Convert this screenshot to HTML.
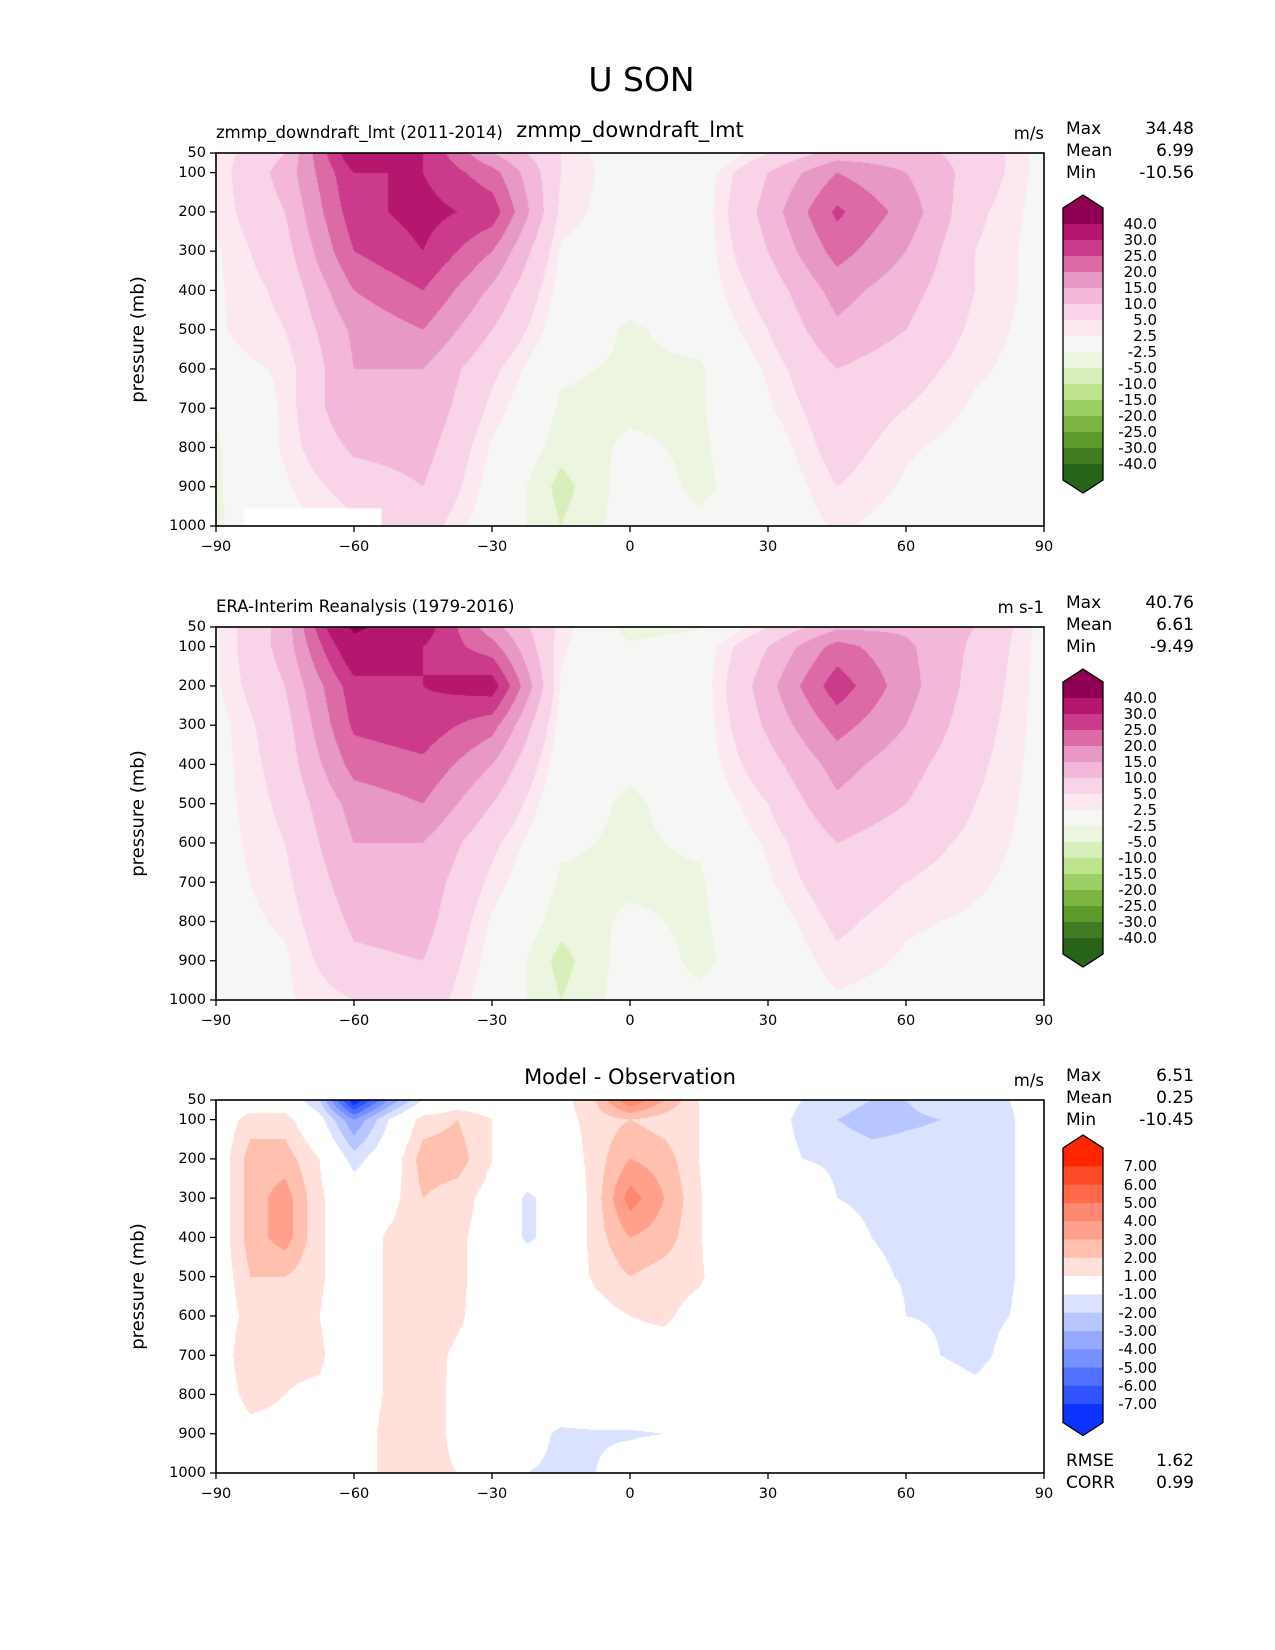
<!DOCTYPE html>
<html><head><meta charset="utf-8">
<style>
body{margin:0;background:#fff;font-family:"Liberation Sans","DejaVu Sans",sans-serif;}
#root{position:relative;width:1275px;height:1650px;overflow:hidden;background:#fff}
.t{position:absolute;white-space:nowrap;color:#000;font-family:"DejaVu Sans","Liberation Sans",sans-serif}
canvas{position:absolute}
svg{position:absolute;left:0;top:0}
</style></head>
<body>
<div id="root">
<div class="t" style="left:0;width:1275px;text-align:center;top:60px;font-size:33px;padding-left:4px">U SON</div>
</div>
<script>
const lats=[-90,-75,-60,-45,-30,-15,0,15,30,45,60,75,90];
const diffLats=[-90,-82.5,-75,-67.5,-60,-52.5,-45,-37.5,-30,-22.5,-15,-7.5,0,7.5,15,22.5,30,37.5,45,52.5,60,67.5,75,82.5,90];
const pressures=[50,100,200,300,400,500,600,700,800,900,1000];
const modelField=[
[3,3,3,2,2,2,1,-2,-3,-3,-3],
[10,12,10,8,6,5,3,3,3,2,1],
[35,30,28,25,20,16,15,15,11,7,4],
[30,30,32,30,25,20,15,14,12,10,7],
[15,22,28,20,14,10,6,4,2,1,0],
[5,5,4,2,1,0,-2,-3,-4,-6,-5],
[-1,0,0,0,-1,-3,-3,-3,-2,-1,-1],
[-3,0,0,0,0,-1,-3,-3,-3,-3,-2],
[5,10,12,10,7,5,3,2,0,-1,-1],
[12,20,26,22,17,14,10,8,7,5,3],
[12,15,18,15,12,10,7,5,3,2,1],
[8,8,6,5,5,4,3,2,1,0,0],
[1,1,1,1,1,1,1,1,1,1,1]];
const obsField=[
[2,2,2,1,1,1,1,1,1,1,1],
[12,12,10,8,7,6,5,4,3,2,2],
[42,36,28,26,22,17,15,13,11,9,5],
[33,30,30,28,24,20,15,13,12,10,8],
[17,22,33,22,15,10,6,4,2,1,0],
[4,3,2,1,0,-1,-2,-3,-4,-6,-5],
[-4,-2,-1,-1,-2,-3,-3,-3,-2,-1,-1],
[-3,0,0,0,0,-1,-2,-3,-3,-3,-2],
[5,10,13,11,8,5,3,2,0,-1,-1],
[14,22,28,22,17,14,10,8,6,4,2],
[14,16,17,15,12,10,7,5,3,2,1],
[10,9,8,7,6,5,4,3,2,1,1],
[1,1,1,1,1,1,1,1,1,1,1]];
const diffField=[
[0,0,0,0,0,0,0,0,0,0,0],
[0,1.5,2.5,2.5,2.5,2,1.5,2,1.5,0.5,0],
[0,1.5,2.5,3.5,3.5,2,1.5,1.2,1,0.5,0],
[-2,-0.5,1,1.2,1.2,1.2,1,1.2,0.8,0.5,0],
[-8,-4,-1.5,0,0,0,0,0,0,0,0],
[-4,-1,0,0.5,1.2,1.2,1.2,1.2,1.2,1.5,1.5],
[-1,1.5,2.5,2,1.5,1.5,1.5,1.5,2,2,1.5],
[0,2,2.5,1.5,1.2,1.2,1.2,0.8,0.5,0.5,1],
[0,1,1,0.5,0.5,0.5,0.3,0.2,0,0,0],
[0,0,0,-1.2,-1.2,0,0,0,0,-0.5,-1],
[0.5,0.5,0,-0.5,-0.5,0,0,0,0,-1.2,-1.2],
[2,1.5,1.5,1.5,1.5,1.2,0.5,0,0,-1.1,-1],
[5,2,3,4.5,3,2,1,0.5,0,-1.1,-0.5],
[3,1.5,2.5,3,2.5,1.5,1.2,0.5,0,-1,0],
[1,1,1,1.2,1.2,1.2,0.5,0,0,0,0],
[0,0,-1,-1,-1,0,0,0,0,0,0],
[0,0,0,0,0,0,0,0,0,0,0],
[-1,-1.5,-1,0,0,0,0,0,0,0,0],
[-1.5,-2,-1.2,-1,-0.5,0,0,0,0,0,0],
[-2,-2.5,-1.5,-1.2,-1,-0.8,0,0,0,0,0],
[-2,-2.2,-1.5,-1.2,-1.2,-1.1,-1,0,0,0,0],
[-1.5,-2,-1.5,-1.2,-1.2,-1.2,-1.2,-1,0,0,0],
[-1.5,-2,-1.5,-1.5,-1.5,-1.5,-1.5,-1.5,-0.5,0,0],
[-1,-1.2,-1.2,-1.2,-1.2,-1.2,-1,-0.5,0,0,0],
[0,0,0,0,0,0,0,0,0,0,0]];
const uLevels=[-40,-30,-25,-20,-15,-10,-5,-2.5,2.5,5,10,15,20,25,30,40];
const uLabels=["40.0","30.0","25.0","20.0","15.0","10.0","5.0","2.5","-2.5","-5.0","-10.0","-15.0","-20.0","-25.0","-30.0","-40.0"];
const uColors=["#276419","#3f7c22","#5c9a2c","#7db543","#9ccf65","#bde38c","#d9efbb","#ecf5df","#f6f6f4","#fbe8f1","#f9d3e8","#f2b7d9","#e898c5","#dc6aa6","#cc3a8b","#b5176f","#8e0152"];
const dLevels=[-7,-6,-5,-4,-3,-2,-1,1,2,3,4,5,6,7];
const dLabels=["7.00","6.00","5.00","4.00","3.00","2.00","1.00","-1.00","-2.00","-3.00","-4.00","-5.00","-6.00","-7.00"];
const dColors=["#0a33ff","#3152ff","#5270ff","#7590ff","#95aaff","#b8c6ff","#dae2ff","#ffffff","#ffe0da","#ffc0b0","#ffa08c","#ff8870","#ff6a4a","#ff4a28","#ff2600"];
const xTicks=[-90,-60,-30,0,30,60,90];
const yTicks=[50,100,200,300,400,500,600,700,800,900,1000];

const root=document.getElementById('root');
const L=216,R=1044,H=373;
const xs=lat=>L+(lat+90)/180*(R-L);
function ys(top,p){return top+(p-50)/950*H;}

function interp(field,la,lat,p){
  let i=0;while(i<la.length-2&&lat>la[i+1])i++;
  let fx=(lat-la[i])/(la[i+1]-la[i]);
  let j=0;while(j<pressures.length-2&&p>pressures[j+1])j++;
  let fy=(p-pressures[j])/(pressures[j+1]-pressures[j]);
  fx=Math.max(0,Math.min(1,fx));fy=Math.max(0,Math.min(1,fy));
  const a=field[i][j],b=field[i+1][j],c=field[i][j+1],d=field[i+1][j+1];
  return a*(1-fx)*(1-fy)+b*fx*(1-fy)+c*(1-fx)*fy+d*fx*fy;
}
function hex(h){return [parseInt(h.substr(1,2),16),parseInt(h.substr(3,2),16),parseInt(h.substr(5,2),16)];}
function txt(s,x,y,size,name,align){
  const d=document.createElement('div');d.className='t';
  
  
  d.textContent=s;d.style.fontSize=size+'px';d.style.top=(y-size*0.6)+'px';
  if(align==='right'){d.style.right=(1275-x)+'px';}
  else if(align==='center'){d.style.left=(x-300)+'px';d.style.width='600px';d.style.textAlign='center';}
  else d.style.left=x+'px';
  root.appendChild(d);return d;
}
function panel(top,field,la,levels,colors,labels,name,opts){
  const cv=document.createElement('canvas');
  
  
  cv.width=R-L;cv.height=H;cv.style.left=L+'px';cv.style.top=top+'px';
  const ctx=cv.getContext('2d');const img=ctx.createImageData(R-L,H);
  const cols=colors.map(hex);
  for(let y=0;y<H;y++){const p=50+(y+0.5)/H*950;
    for(let x=0;x<R-L;x++){const lat=-90+(x+0.5)/(R-L)*180;
      const v=interp(field,la,lat,p);let k=0;while(k<levels.length&&v>=levels[k])k++;
      const c=cols[k];const o=(y*(R-L)+x)*4;img.data[o]=c[0];img.data[o+1]=c[1];img.data[o+2]=c[2];img.data[o+3]=255;}}
  ctx.putImageData(img,0,0);
  if(opts.mask){ctx.fillStyle='#fff';const m=opts.mask;ctx.fillRect(xs(m[0])-L,ys(0,m[2]),xs(m[1])-xs(m[0]),H);}
  root.appendChild(cv);
  const ns='http://www.w3.org/2000/svg';
  const svg=document.createElementNS(ns,'svg');svg.setAttribute('width',1275);svg.setAttribute('height',1650);
  
  
  const fr=document.createElementNS(ns,'rect');
  fr.setAttribute('x',L);fr.setAttribute('y',top);fr.setAttribute('width',R-L);fr.setAttribute('height',H);
  fr.setAttribute('fill','none');fr.setAttribute('stroke','#000');fr.setAttribute('stroke-width','1.6');
  
  
  svg.appendChild(fr);
  xTicks.forEach(t=>{const l=document.createElementNS(ns,'line');const x=xs(t);
    l.setAttribute('x1',x);l.setAttribute('x2',x);l.setAttribute('y1',top+H);l.setAttribute('y2',top+H+6);l.setAttribute('stroke','#000');l.setAttribute('stroke-width','1.3');
    
    
    svg.appendChild(l);
    txt(t===-90?'\u221290':(t<0?'\u2212'+(-t):String(t)),x,top+H+22,14.5,'x-tick-label','center');});
  yTicks.forEach(t=>{const l=document.createElementNS(ns,'line');const y=ys(top,t);
    l.setAttribute('x1',L-6);l.setAttribute('x2',L);l.setAttribute('y1',y);l.setAttribute('y2',y);l.setAttribute('stroke','#000');l.setAttribute('stroke-width','1.3');
    
    
    svg.appendChild(l);
    txt(String(t),L-10,y+1,14.5,'y-tick-label','right');});
  const cx=1063,cw=40,ct=opts.cbTop,bh=opts.box,n=colors.length;
  for(let k=0;k<n;k++){const idx=n-1-k;
    const r=document.createElementNS(ns,'rect');
    r.setAttribute('x',cx);r.setAttribute('y',ct+k*bh);r.setAttribute('width',cw);r.setAttribute('height',bh+0.5);r.setAttribute('fill',colors[idx]);
    
    
    svg.appendChild(r);}
  const tri=document.createElementNS(ns,'polygon');
  tri.setAttribute('points',`${cx},${ct} ${cx+cw/2},${ct-13} ${cx+cw},${ct}`);tri.setAttribute('fill',colors[n-1]);
  
  
  svg.appendChild(tri);
  const bot=ct+n*bh;
  const tri2=document.createElementNS(ns,'polygon');
  tri2.setAttribute('points',`${cx},${bot} ${cx+cw/2},${bot+13} ${cx+cw},${bot}`);tri2.setAttribute('fill',colors[0]);
  
  
  svg.appendChild(tri2);
  const ol=document.createElementNS(ns,'polygon');
  ol.setAttribute('points',`${cx},${ct} ${cx+cw/2},${ct-13} ${cx+cw},${ct} ${cx+cw},${bot} ${cx+cw/2},${bot+13} ${cx},${bot}`);
  ol.setAttribute('fill','none');ol.setAttribute('stroke','#000');ol.setAttribute('stroke-width','1.3');
  
  
  svg.appendChild(ol);
  root.appendChild(svg);
  labels.forEach((s,k)=>txt(s,1157,ct+(k+1)*bh,15,'colorbar-label','right'));
  const yl=txt('pressure (mb)',138,top+H/2,18,'y-axis-title','center');
  yl.style.transform='rotate(-90deg)';
  opts.stats.forEach((s,k)=>{txt(s[0],1066,top-24+k*22,17,'stat-label');txt(s[1],1194,top-24+k*22,17,'stat-value','right');});
  if(opts.left)txt(opts.left,216,top-20,16.5,'panel-subtitle');
  if(opts.center)txt(opts.center,630,top-22,21,'panel-title','center');
  txt(opts.unit,1044,top-19,16.5,'units-label','right');
}
panel(153,modelField,lats,uLevels,uColors,uLabels,'model-panel',{cbTop:208,box:16,mask:[-84,-54,955],
  stats:[['Max','34.48'],['Mean','6.99'],['Min','-10.56']],left:'zmmp_downdraft_lmt (2011-2014)',center:'zmmp_downdraft_lmt',unit:'m/s'});
panel(627,obsField,lats,uLevels,uColors,uLabels,'obs-panel',{cbTop:682,box:16,
  stats:[['Max','40.76'],['Mean','6.61'],['Min','-9.49']],left:'ERA-Interim Reanalysis (1979-2016)',unit:'m s-1'});
panel(1100,diffField,diffLats,dLevels,dColors,dLabels,'diff-panel',{cbTop:1148,box:18.3,
  stats:[['Max','6.51'],['Mean','0.25'],['Min','-10.45']],center:'Model - Observation',unit:'m/s'});
txt('RMSE',1066,1461,17,'rmse-label');txt('1.62',1194,1461,17,'rmse-value','right');
txt('CORR',1066,1483,17,'corr-label');txt('0.99',1194,1483,17,'corr-value','right');
</script>
</body></html>
